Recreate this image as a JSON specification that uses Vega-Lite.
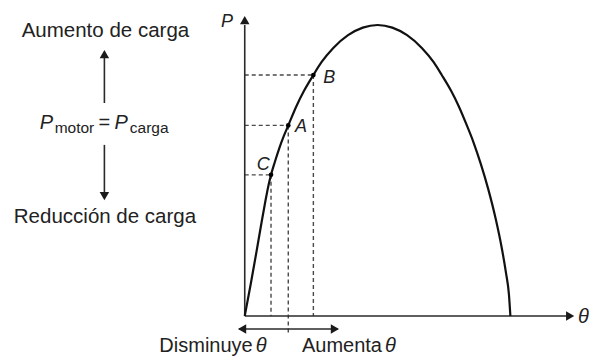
{
  "$schema": "https://vega.github.io/schema/vega-lite/v6.json",
  "width": 589,
  "height": 356,
  "padding": 0,
  "autosize": {"type": "fit", "contains": "padding"},
  "background": "white",
  "config": {"view": {"stroke": null}, "text": {"font": "Liberation Sans", "color": "#222"}},
  "datasets": {
    "curve": [
      {"theta": 0, "p": 0}, {"theta": 4, "p": 0.108}, {"theta": 8, "p": 0.222},
      {"theta": 11, "p": 0.31}, {"theta": 14, "p": 0.395}, {"theta": 16, "p": 0.447},
      {"theta": 17.8, "p": 0.485}, {"theta": 20.5, "p": 0.531}, {"theta": 23.5, "p": 0.578},
      {"theta": 26.5, "p": 0.619}, {"theta": 29.5, "p": 0.655}, {"theta": 35, "p": 0.721},
      {"theta": 40, "p": 0.772}, {"theta": 46.5, "p": 0.828}, {"theta": 52, "p": 0.872},
      {"theta": 60, "p": 0.921}, {"theta": 70, "p": 0.965}, {"theta": 80, "p": 0.991},
      {"theta": 90, "p": 1.0}, {"theta": 100, "p": 0.991}, {"theta": 110, "p": 0.965},
      {"theta": 120, "p": 0.921}, {"theta": 128, "p": 0.872}, {"theta": 133.5, "p": 0.828},
      {"theta": 140, "p": 0.772}, {"theta": 145, "p": 0.721}, {"theta": 150.5, "p": 0.655},
      {"theta": 155, "p": 0.597}, {"theta": 160, "p": 0.522}, {"theta": 165, "p": 0.436},
      {"theta": 170, "p": 0.335}, {"theta": 174, "p": 0.238}, {"theta": 177, "p": 0.149},
      {"theta": 179, "p": 0.075}, {"theta": 180, "p": 0}
    ],
    "operating": [
      {"name": "C", "theta": 17.8, "p": 0.485},
      {"name": "A", "theta": 29.5, "p": 0.655},
      {"name": "B", "theta": 46.5, "p": 0.828}
    ],
    "guides": [
      {"theta": 0, "p": 0.485, "theta2": 17.8, "p2": 0.485},
      {"theta": 17.8, "p": 0.485, "theta2": 17.8, "p2": 0},
      {"theta": 0, "p": 0.655, "theta2": 29.5, "p2": 0.655},
      {"theta": 29.5, "p": 0.655, "theta2": 29.5, "p2": -0.058},
      {"theta": 0, "p": 0.828, "theta2": 46.5, "p2": 0.828},
      {"theta": 46.5, "p": 0.828, "theta2": 46.5, "p2": 0}
    ],
    "strokes": [
      {"theta": 0, "p": 0, "theta2": 0, "p2": 1.0},
      {"theta": 0, "p": 0, "theta2": 219, "p2": 0},
      {"theta": -4, "p": -0.0447, "theta2": 63, "p2": -0.0447},
      {"theta": -95.1, "p": 0.732, "theta2": -95.1, "p2": 0.9},
      {"theta": -95.1, "p": 0.588, "theta2": -95.1, "p2": 0.41}
    ],
    "heads": [
      {"theta": 0, "p": 1.017, "shape": "triangle-up"},
      {"theta": 220.5, "p": 0, "shape": "triangle-right"},
      {"theta": -1.8, "p": -0.0447, "shape": "triangle-left"},
      {"theta": 61.1, "p": -0.0447, "shape": "triangle-right"},
      {"theta": -95.1, "p": 0.9, "shape": "triangle-up"},
      {"theta": -95.1, "p": 0.412, "shape": "triangle-down"}
    ],
    "labels": [
      {"text": "Aumento de carga", "theta": -94.4, "p": 0.96, "kind": "title"},
      {"text": "Reducción de carga", "theta": -94.7, "p": 0.319, "kind": "title"},
      {"text": "=", "theta": -95.1, "p": 0.644, "kind": "eq"},
      {"text": "Disminuye", "theta": 5.4, "p": -0.123, "kind": "word"},
      {"text": "Aumenta", "theta": 93.0, "p": -0.123, "kind": "word"},
      {"text": "θ", "theta": 7.4, "p": -0.123, "kind": "sym"},
      {"text": "θ", "theta": 95.06, "p": -0.123, "kind": "sym"},
      {"text": "θ", "theta": 225.8, "p": -0.024, "kind": "sym"},
      {"text": "P", "theta": -138.9, "p": 0.644, "kind": "sym"},
      {"text": "P", "theta": -88.3, "p": 0.644, "kind": "sym"},
      {"text": "motor", "theta": -128.8, "p": 0.629, "kind": "sub"},
      {"text": "carga", "theta": -77.9, "p": 0.629, "kind": "sub"},
      {"text": "P", "theta": -12.1, "p": 0.994, "kind": "tag"},
      {"text": "A", "theta": 38.1, "p": 0.633, "kind": "tag"},
      {"text": "B", "theta": 57.3, "p": 0.8, "kind": "tag"},
      {"text": "C", "theta": 12.5, "p": 0.502, "kind": "tag"}
    ]
  },
  "encoding": {
    "x": {"field": "theta", "type": "quantitative", "axis": null,
          "scale": {"domain": [-165.84, 231.24], "nice": false, "zero": false}},
    "y": {"field": "p", "type": "quantitative", "axis": null,
          "scale": {"domain": [-0.1375, 1.0859], "nice": false, "zero": false}}
  },
  "layer": [
    {
      "data": {"name": "guides"},
      "mark": {"type": "rule", "color": "#4a4a4a", "strokeWidth": 1.4, "strokeDash": [4, 3]},
      "encoding": {"x2": {"field": "theta2"}, "y2": {"field": "p2"}}
    },
    {
      "data": {"name": "strokes"},
      "mark": {"type": "rule", "color": "#2a2a2a", "strokeWidth": 1.6},
      "encoding": {"x2": {"field": "theta2"}, "y2": {"field": "p2"}}
    },
    {
      "data": {"name": "heads"},
      "mark": {"type": "point", "filled": true, "color": "#1a1a1a", "opacity": 1, "size": 90},
      "encoding": {"shape": {"field": "shape", "type": "nominal", "scale": null}}
    },
    {
      "data": {"name": "curve"},
      "mark": {"type": "line", "color": "#111", "strokeWidth": 2.2, "interpolate": "monotone"},
      "encoding": {}
    },
    {
      "data": {"name": "operating"},
      "mark": {"type": "point", "filled": true, "color": "#000", "opacity": 1, "size": 22},
      "encoding": {}
    },
    {
      "data": {"name": "labels"},
      "transform": [{"filter": "datum.kind === 'title'"}],
      "mark": {"type": "text", "fontSize": 20.5, "align": "center", "baseline": "alphabetic"},
      "encoding": {"text": {"field": "text"}}
    },
    {
      "data": {"name": "labels"},
      "transform": [{"filter": "datum.kind === 'eq'"}],
      "mark": {"type": "text", "fontSize": 20, "align": "center", "baseline": "alphabetic"},
      "encoding": {"text": {"field": "text"}}
    },
    {
      "data": {"name": "labels"},
      "transform": [{"filter": "datum.kind === 'word'"}],
      "mark": {"type": "text", "fontSize": 20, "align": "right", "baseline": "alphabetic"},
      "encoding": {"text": {"field": "text"}}
    },
    {
      "data": {"name": "labels"},
      "transform": [{"filter": "datum.kind === 'sym'"}],
      "mark": {"type": "text", "fontSize": 20, "fontStyle": "italic", "align": "left", "baseline": "alphabetic"},
      "encoding": {"text": {"field": "text"}}
    },
    {
      "data": {"name": "labels"},
      "transform": [{"filter": "datum.kind === 'sub'"}],
      "mark": {"type": "text", "fontSize": 15.5, "align": "left", "baseline": "alphabetic"},
      "encoding": {"text": {"field": "text"}}
    },
    {
      "data": {"name": "labels"},
      "transform": [{"filter": "datum.kind === 'tag'"}],
      "mark": {"type": "text", "fontSize": 18, "fontStyle": "italic", "align": "center", "baseline": "alphabetic"},
      "encoding": {"text": {"field": "text"}}
    }
  ]
}
